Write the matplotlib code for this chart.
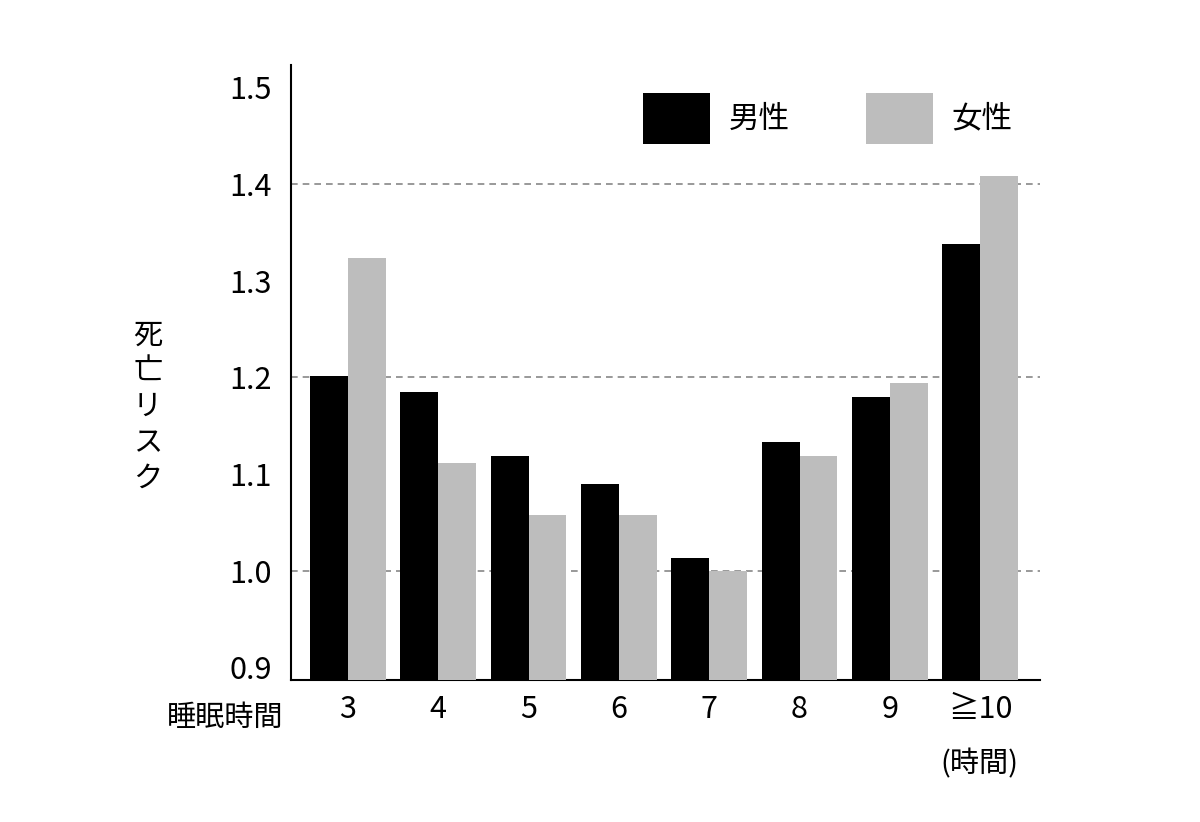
import matplotlib.pyplot as plt
import numpy as np

plt.rcParams['font.family'] = ['Noto Sans CJK JP', 'DejaVu Sans']

hours = ['3', '4', '5', '6', '7', '8', '9', '≧10']
male = [1.202, 1.185, 1.119, 1.090, 1.013, 1.133, 1.180, 1.338]
female = [1.324, 1.111, 1.058, 1.058, 1.000, 1.119, 1.194, 1.408]
yticks = [0.9, 1.0, 1.1, 1.2, 1.3, 1.4, 1.5]

fig = plt.figure(figsize=(12, 8.22), dpi=100)
ax = fig.add_axes([0.2425, 0.1727, 0.624, 0.748])

x = np.arange(len(hours))
w = 0.42
ax.bar(x - w / 2, male, w, bottom=0, color='black', label='男性', zorder=3)
ax.bar(x + w / 2, female, w, bottom=0, color='#bdbdbd', label='女性', zorder=3)

for g in [1.0, 1.2, 1.4]:
    ax.axhline(g, color='#888888', ls=(0, (4, 3)), lw=1.2, zorder=1)

ax.set_ylim(0.887, 1.523)
ax.set_xlim(-0.63, 7.66)
ax.set_yticks(yticks)
ax.set_yticklabels([f'{v:.1f}' for v in yticks], fontsize=22)
ax.set_xticks(x)
ax.set_xticklabels(hours, fontsize=22)
ax.tick_params(length=0, pad=10)
ax.tick_params(axis='y', pad=14)
for s in ['top', 'right']:
    ax.spines[s].set_visible(False)
ax.spines['left'].set_linewidth(1.5)
ax.spines['bottom'].set_linewidth(1.5)

fig.text(0.188, 0.126, '睡眠時間', fontsize=21, ha='center', va='center')
fig.text(0.816, 0.070, '(時間)', fontsize=21, ha='center', va='center')
fig.text(0.123, 0.505, '死\n亡\nリ\nス\nク', fontsize=21, ha='center', va='center',
         linespacing=1.25)

ax.legend(loc='upper right', bbox_to_anchor=(1.0, 1.0), ncol=2, frameon=False,
          fontsize=22, handlelength=2.2, handleheight=2.2, columnspacing=2.5,
          handletextpad=0.6)

fig.savefig('out.png', dpi=100)
